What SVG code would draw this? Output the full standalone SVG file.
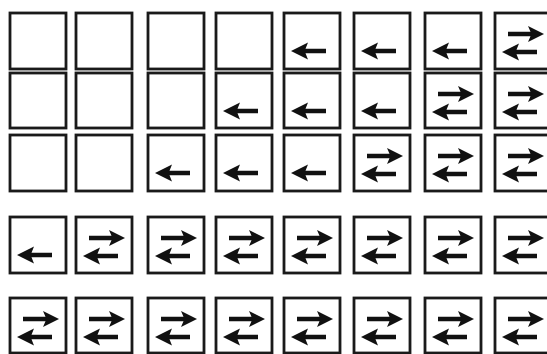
<svg xmlns="http://www.w3.org/2000/svg" width="547" height="354" viewBox="0 0 547 354">
<style>
.box{fill:#fff;stroke:#1a1a1a;stroke-width:2.8}
.arr{fill:#111}
</style>
<defs>
<path id="L" class="arr" d="M7,0 L24,-8.5 L21.5,-2.3 L42,-2.3 L42,2.3 L21.5,2.3 L24,8.5 Z"/>
<path id="R" class="arr" d="M49,0 L33,-8 L35.5,-2.3 L13,-2.3 L13,2.3 L35.5,2.3 L33,8 Z"/>
<g id="S"><use href="#L" y="38"/></g>
<g id="D"><use href="#R" y="21"/><use href="#L" y="39"/></g>
</defs>
<rect width="547" height="354" fill="#fff"/>
<g id="connectors"/>
<!-- row 1 -->
<g id="r1c1" transform="translate(10,13)"><rect class="box" width="56" height="56"/></g>
<g id="r1c2" transform="translate(76,13)"><rect class="box" width="56" height="56"/></g>
<g id="r1c3" transform="translate(148,13)"><rect class="box" width="56" height="56"/></g>
<g id="r1c4" transform="translate(216,13)"><rect class="box" width="56" height="56"/></g>
<g id="r1c5" transform="translate(284,13)"><rect class="box" width="56" height="56"/><use href="#S"/></g>
<g id="r1c6" transform="translate(354,13)"><rect class="box" width="56" height="56"/><use href="#S"/></g>
<g id="r1c7" transform="translate(425,13)"><rect class="box" width="56" height="56"/><use href="#S"/></g>
<g id="r1c8" transform="translate(495,13)"><rect class="box" width="56" height="56"/><use href="#D"/></g>
<!-- row 2 -->
<g id="r2c1" transform="translate(10,73)"><rect class="box" width="56" height="55"/></g>
<g id="r2c2" transform="translate(76,73)"><rect class="box" width="56" height="55"/></g>
<g id="r2c3" transform="translate(148,73)"><rect class="box" width="56" height="55"/></g>
<g id="r2c4" transform="translate(216,73)"><rect class="box" width="56" height="55"/><use href="#S"/></g>
<g id="r2c5" transform="translate(284,73)"><rect class="box" width="56" height="55"/><use href="#S"/></g>
<g id="r2c6" transform="translate(354,73)"><rect class="box" width="56" height="55"/><use href="#S"/></g>
<g id="r2c7" transform="translate(425,73)"><rect class="box" width="56" height="55"/><use href="#D"/></g>
<g id="r2c8" transform="translate(495,73)"><rect class="box" width="56" height="55"/><use href="#D"/></g>
<!-- row 3 -->
<g id="r3c1" transform="translate(10,135)"><rect class="box" width="56" height="56"/></g>
<g id="r3c2" transform="translate(76,135)"><rect class="box" width="56" height="56"/></g>
<g id="r3c3" transform="translate(148,135)"><rect class="box" width="56" height="56"/><use href="#S"/></g>
<g id="r3c4" transform="translate(216,135)"><rect class="box" width="56" height="56"/><use href="#S"/></g>
<g id="r3c5" transform="translate(284,135)"><rect class="box" width="56" height="56"/><use href="#S"/></g>
<g id="r3c6" transform="translate(354,135)"><rect class="box" width="56" height="56"/><use href="#D"/></g>
<g id="r3c7" transform="translate(425,135)"><rect class="box" width="56" height="56"/><use href="#D"/></g>
<g id="r3c8" transform="translate(495,135)"><rect class="box" width="56" height="56"/><use href="#D"/></g>
<!-- row 4 -->
<g id="r4c1" transform="translate(10,217)"><rect class="box" width="56" height="56"/><use href="#S"/></g>
<g id="r4c2" transform="translate(76,217)"><rect class="box" width="56" height="56"/><use href="#D"/></g>
<g id="r4c3" transform="translate(148,217)"><rect class="box" width="56" height="56"/><use href="#D"/></g>
<g id="r4c4" transform="translate(216,217)"><rect class="box" width="56" height="56"/><use href="#D"/></g>
<g id="r4c5" transform="translate(284,217)"><rect class="box" width="56" height="56"/><use href="#D"/></g>
<g id="r4c6" transform="translate(354,217)"><rect class="box" width="56" height="56"/><use href="#D"/></g>
<g id="r4c7" transform="translate(425,217)"><rect class="box" width="56" height="56"/><use href="#D"/></g>
<g id="r4c8" transform="translate(495,217)"><rect class="box" width="56" height="56"/><use href="#D"/></g>
<!-- row 5 -->
<g id="r5c1" transform="translate(10,298)"><rect class="box" width="56" height="55"/><use href="#D"/></g>
<g id="r5c2" transform="translate(76,298)"><rect class="box" width="56" height="55"/><use href="#D"/></g>
<g id="r5c3" transform="translate(148,298)"><rect class="box" width="56" height="55"/><use href="#D"/></g>
<g id="r5c4" transform="translate(216,298)"><rect class="box" width="56" height="55"/><use href="#D"/></g>
<g id="r5c5" transform="translate(284,298)"><rect class="box" width="56" height="55"/><use href="#D"/></g>
<g id="r5c6" transform="translate(354,298)"><rect class="box" width="56" height="55"/><use href="#D"/></g>
<g id="r5c7" transform="translate(425,298)"><rect class="box" width="56" height="55"/><use href="#D"/></g>
<g id="r5c8" transform="translate(495,298)"><rect class="box" width="56" height="55"/><use href="#D"/></g>
</svg>
